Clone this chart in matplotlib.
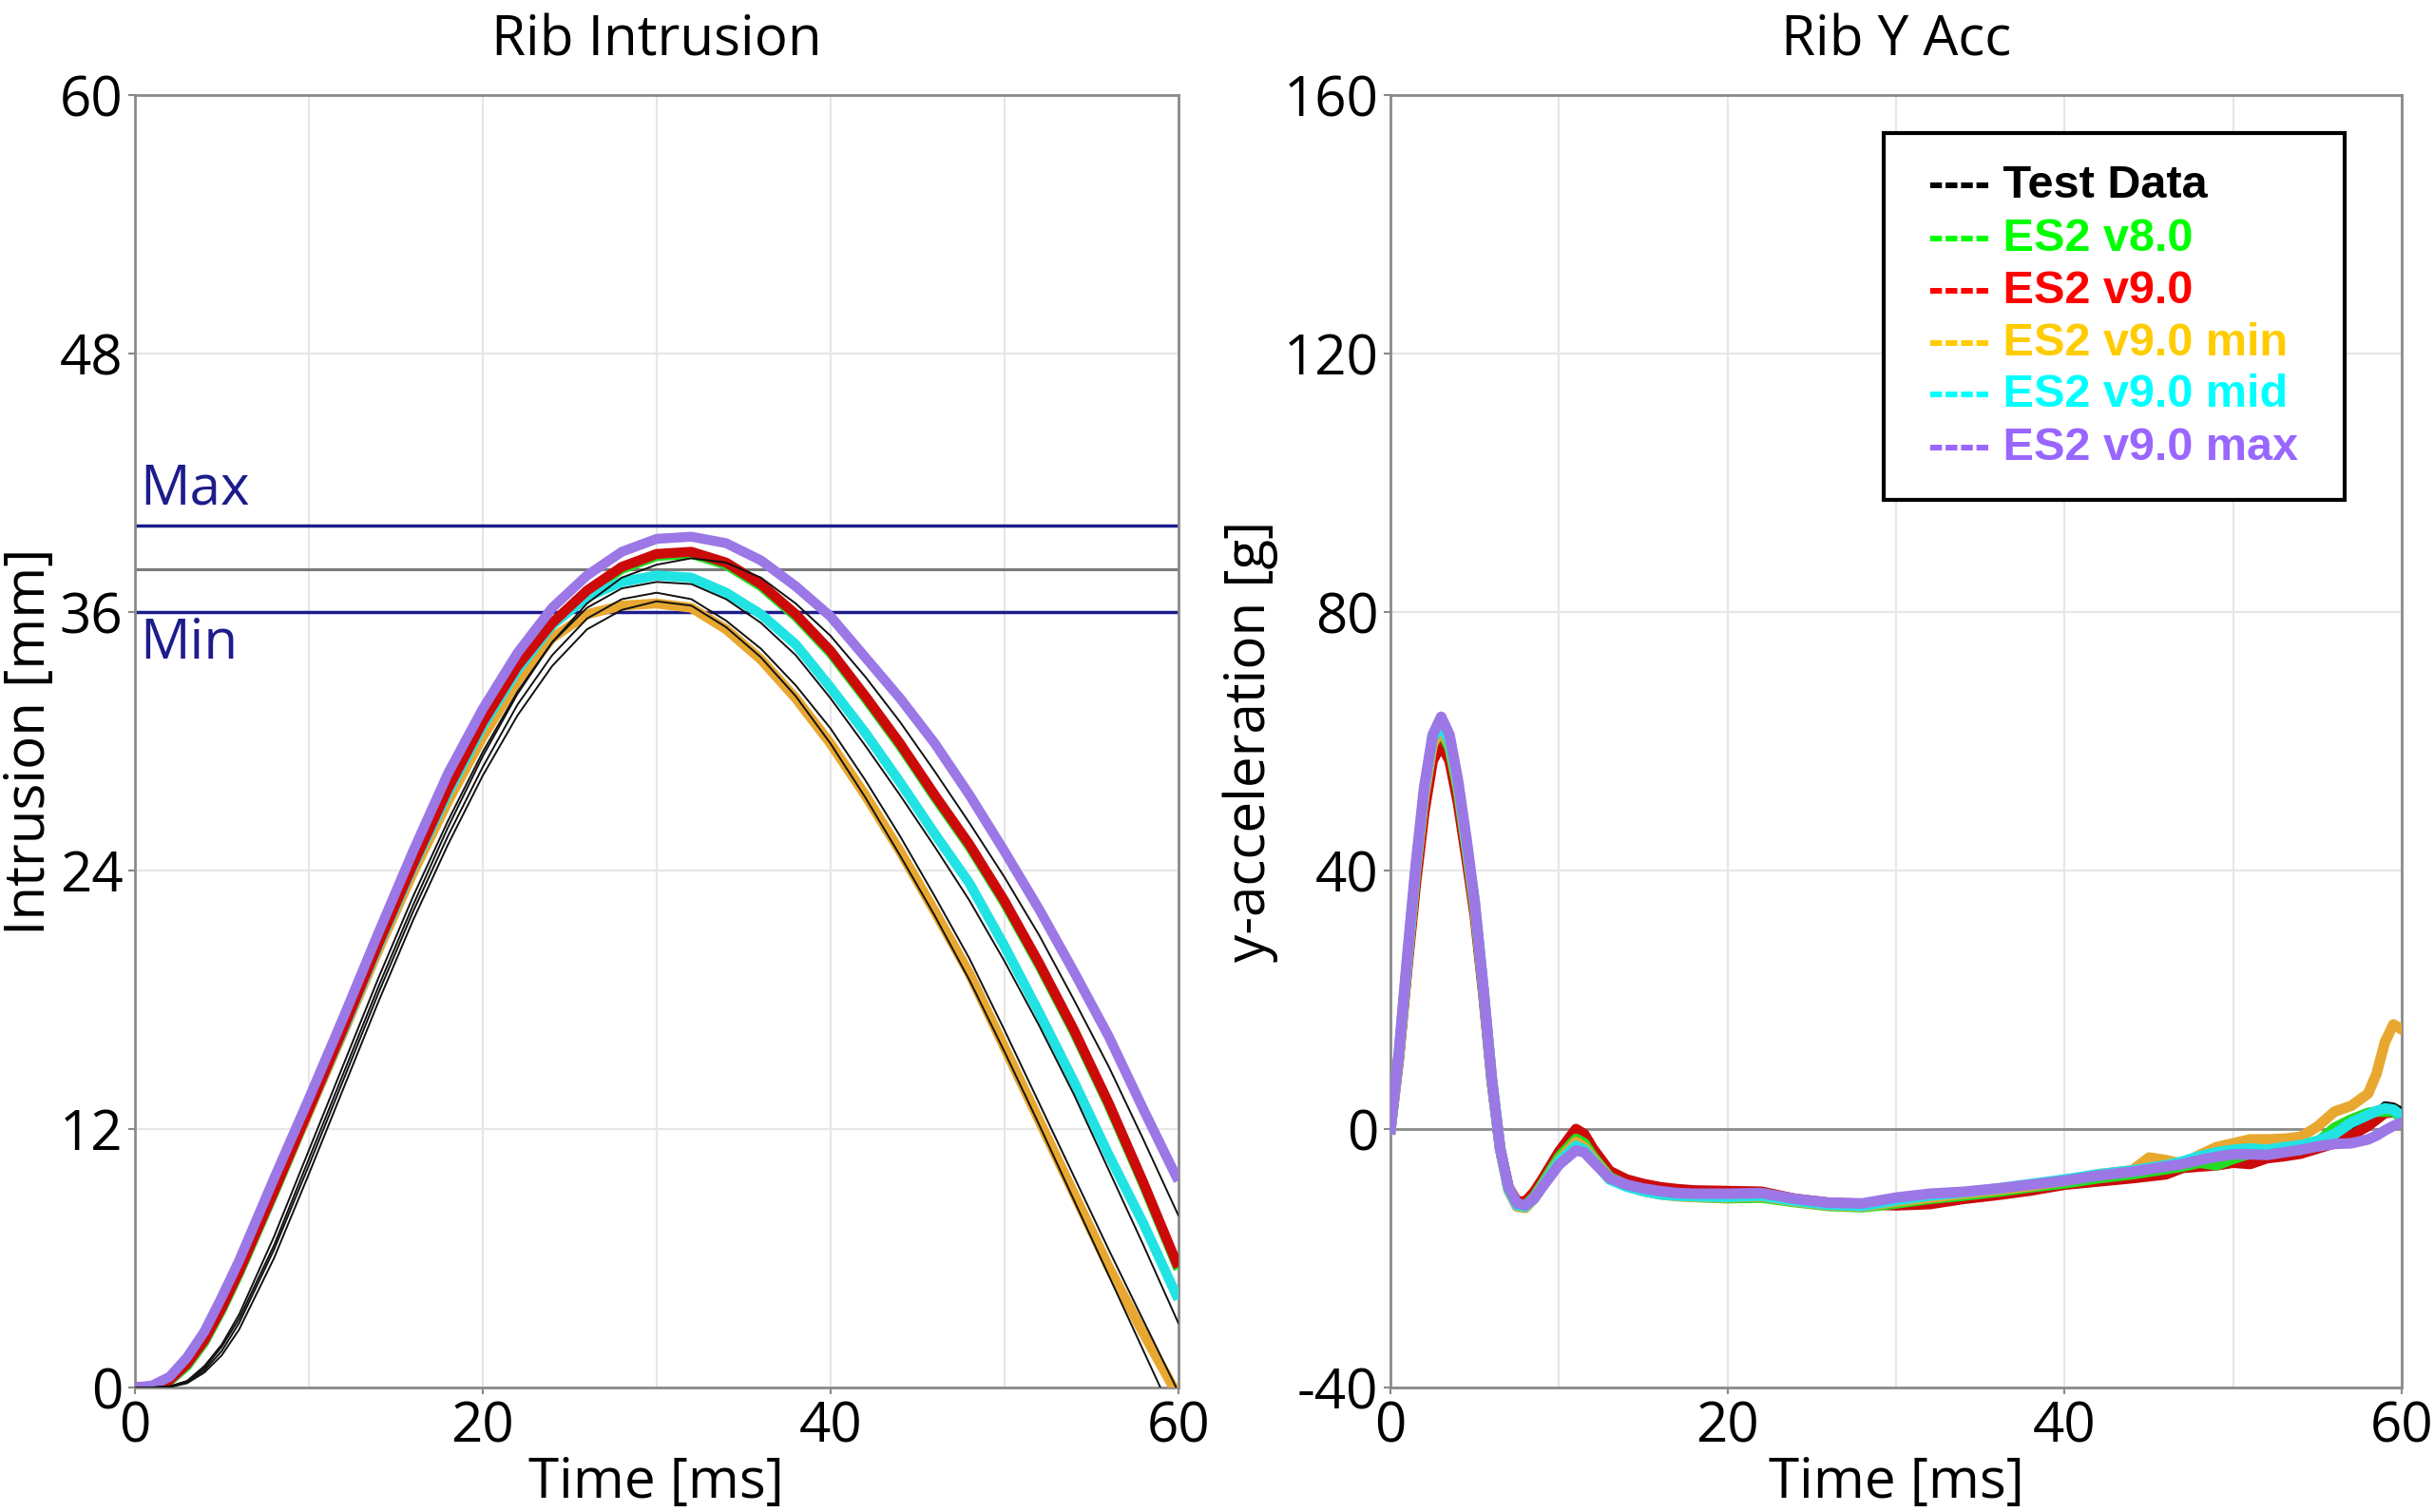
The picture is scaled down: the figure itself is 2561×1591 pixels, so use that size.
import matplotlib
matplotlib.use("Agg")
import matplotlib.pyplot as plt
from matplotlib.ticker import MultipleLocator
from matplotlib.patches import Rectangle

plt.rcParams['font.family'] = ['Open Sans', 'DejaVu Sans']
plt.rcParams['axes.unicode_minus'] = False

# ---------------- data: Rib Intrusion ----------------
t_left = [0, 1, 2, 3, 4, 5, 6, 8, 10, 12, 14, 16, 18, 20, 22, 24, 26, 28, 30, 32,
          34, 36, 38, 40, 42, 44, 46, 48, 50, 52, 54, 56, 58, 60]

intr_v80 = [0, 0.05, 0.3, 1.0, 2.1, 3.6, 5.3, 9.0, 12.8, 16.6, 20.5, 24.2, 27.7, 30.8, 33.4, 35.4, 36.9,
            38.0, 38.6, 38.7, 38.2, 37.2, 35.8, 34.1, 32.0, 29.8, 27.4, 25.1, 22.5, 19.6, 16.5, 13.1, 9.4, 5.5]
intr_v90 = [0, 0.05, 0.35, 1.1, 2.2, 3.7, 5.4, 9.1, 12.9, 16.7, 20.6, 24.3, 27.8, 30.9, 33.5, 35.5, 37.0,
            38.1, 38.7, 38.8, 38.3, 37.3, 35.9, 34.2, 32.1, 29.9, 27.5, 25.2, 22.6, 19.7, 16.6, 13.2, 9.5, 5.6]
intr_min = [0, 0.05, 0.35, 1.1, 2.2, 3.7, 5.4, 9.1, 12.8, 16.5, 20.3, 23.9, 27.2, 30.2, 32.8, 34.8, 35.9,
            36.3, 36.4, 36.2, 35.2, 33.8, 32.0, 29.9, 27.5, 24.9, 22.1, 19.2, 15.8, 12.4, 9.0, 5.6, 2.5, -0.4]
intr_mid = [0, 0.05, 0.35, 1.1, 2.2, 3.7, 5.4, 9.1, 12.9, 16.6, 20.5, 24.2, 27.6, 30.7, 33.3, 35.4, 36.7,
            37.4, 37.7, 37.6, 36.9, 35.9, 34.5, 32.5, 30.4, 28.1, 25.7, 23.4, 20.5, 17.4, 14.2, 10.8, 7.6, 4.1]
intr_max = [0, 0.1, 0.5, 1.4, 2.6, 4.2, 5.9, 9.7, 13.4, 17.2, 21.1, 24.9, 28.5, 31.5, 34.1, 36.2, 37.7,
            38.8, 39.4, 39.5, 39.2, 38.4, 37.2, 35.8, 33.9, 32.0, 29.9, 27.5, 24.9, 22.2, 19.3, 16.3, 12.9, 9.6]
intr_test1 = [0, 0, 0.05, 0.3, 0.9, 1.9, 3.2, 6.6, 10.6, 14.6, 18.6, 22.4, 26.0, 29.3, 32.2, 34.6, 36.4,
              37.6, 38.2, 38.5, 38.3, 37.6, 36.4, 34.9, 33.0, 30.9, 28.6, 26.2, 23.7, 21.0, 18.0, 14.9, 11.5, 8.0]
intr_test2 = [0, 0, 0.05, 0.3, 1.0, 2.0, 3.4, 7.0, 11.0, 15.0, 19.0, 22.8, 26.3, 29.5, 32.3, 34.6, 36.2,
              37.1, 37.4, 37.3, 36.6, 35.5, 34.0, 32.0, 29.8, 27.5, 25.1, 22.6, 19.8, 16.8, 13.6, 10.1, 6.6, 3.0]
intr_test3 = [0, 0, 0.05, 0.25, 0.8, 1.7, 3.0, 6.4, 10.3, 14.3, 18.3, 22.1, 25.6, 28.8, 31.7, 34.0, 35.7,
              36.6, 36.9, 36.6, 35.6, 34.3, 32.6, 30.6, 28.2, 25.6, 22.8, 19.9, 16.6, 13.2, 9.8, 6.4, 3.1, -0.2]
intr_test4 = [0, 0, 0.02, 0.2, 0.7, 1.5, 2.7, 6.0, 9.9, 13.9, 17.9, 21.7, 25.2, 28.4, 31.2, 33.5, 35.2,
              36.1, 36.5, 36.3, 35.3, 33.9, 32.1, 29.9, 27.4, 24.7, 21.9, 18.9, 15.6, 12.2, 8.7, 5.2, 1.7, -1.8]
intr_limit_max = 40
intr_limit_min = 36
intr_nominal = 38

# ---------------- data: Rib Y Acc ----------------
t_right = [0, 0.5, 1, 1.5, 2, 2.5, 3, 3.5, 4, 4.5,
           5, 5.5, 6, 6.5, 7, 7.5, 8, 8.5, 9, 10,
           11, 11.5, 12, 13, 14, 15, 16, 17, 18, 20,
           22, 24, 26, 28, 30, 32, 34, 36, 38, 40,
           42, 44, 45, 46, 47, 48, 49, 50, 51, 52,
           53, 54, 55, 56, 57, 58, 58.5, 59, 59.5, 60]

acc_test = [0, 11, 25.5, 39.5, 51, 59, 61, 58.5, 52, 43,
            33.5, 21, 7.5, -3, -9.2, -11.4, -11.5, -10.2, -8.2, -4.0,
            -1.0, -1.8, -3.8, -7.0, -8.2, -9.0, -9.5, -9.8, -10.0, -10.2,
            -10.2, -11.0, -11.6, -11.8, -11.6, -11.2, -10.6, -10.0, -9.2, -8.5,
            -7.8, -7.2, -6.8, -6.4, -6.0, -5.6, -5.2, -4.8, -4.6, -4.4,
            -4.0, -3.6, -2.8, -1.8, -0.5, 1.0, 2.5, 3.7, 3.5, 2.8]
acc_v80 = [0, 11.5, 26, 40, 52, 60, 61.5, 59, 52.5, 43.5,
           34, 21.5, 7.8, -3, -9.2, -11.6, -11.8, -10.5, -8.5, -4.3,
           -1.5, -2.2, -4.2, -7.4, -8.7, -9.5, -10.0, -10.3, -10.5, -10.7,
           -10.6, -11.3, -11.9, -12.1, -11.5, -10.8, -10.3, -9.7, -9.0, -8.4,
           -7.6, -7.0, -6.6, -6.2, -5.8, -5.2, -5.6, -4.6, -3.8, -3.6,
           -3.5, -3.2, -2.0, 0.2, 1.5, 2.5, 2.7, 2.7, 2.7, 1.7]
acc_v90 = [0, 11, 25, 38, 49, 57, 59.5, 57, 50.5, 42,
           33, 21, 7.5, -3, -9, -11.2, -11.2, -9.8, -7.8, -3.5,
           0.0, -0.8, -3.0, -6.5, -7.8, -8.5, -9.0, -9.3, -9.5, -9.6,
           -9.7, -10.8, -11.4, -11.6, -11.8, -11.6, -10.8, -10.2, -9.5, -8.6,
           -8.1, -7.6, -7.3, -7.0, -6.0, -5.8, -5.6, -5.2, -5.4, -4.5,
           -4.2, -3.8, -3.0, -2.2, -1.0, 0.5, 1.5, 2.5, 2.6, 2.2]
acc_min = [0, 11.5, 26, 40, 51.5, 59.5, 62, 59.5, 53, 44,
           34.5, 22, 8, -3, -9.5, -12, -12.2, -10.8, -8.8, -4.8,
           -2.0, -2.8, -4.5, -7.6, -8.8, -9.6, -10.1, -10.4, -10.5, -10.6,
           -10.4, -11.2, -11.8, -12.0, -11.2, -10.6, -10.0, -9.4, -8.8, -8.0,
           -7.0, -6.4, -4.4, -4.8, -5.4, -4.0, -2.8, -2.2, -1.6, -1.6,
           -1.5, -1.2, 0.4, 2.7, 3.6, 5.5, 8.6, 13.5, 16.2, 15.4]
acc_mid = [0, 11.8, 26.5, 40.5, 52.5, 60.5, 62.5, 60, 53.5, 44.5,
           35, 22, 8, -3, -9.3, -11.8, -12.0, -10.8, -8.9, -5.0,
           -2.6, -3.2, -4.8, -7.8, -8.9, -9.6, -10.1, -10.3, -10.4, -10.5,
           -10.3, -11.1, -11.7, -11.9, -11.0, -10.3, -9.8, -9.2, -8.5, -7.8,
           -7.0, -6.4, -6.0, -5.6, -5.0, -4.2, -3.6, -3.2, -3.0, -3.2,
           -2.8, -2.5, -1.8, -0.8, 1.0, 2.2, 2.8, 3.2, 3.0, 2.0]
acc_max = [0, 12, 27, 41, 53, 61, 63.8, 61, 54, 45,
           35, 22, 8, -3, -9, -11.5, -11.8, -10.8, -9.0, -5.5,
           -3.3, -3.6, -5.0, -7.6, -8.6, -9.2, -9.6, -9.9, -10.0, -10.0,
           -9.9, -10.8, -11.4, -11.5, -10.6, -10.0, -9.7, -9.2, -8.6, -8.0,
           -7.2, -6.6, -6.2, -5.8, -5.4, -4.8, -4.3, -3.9, -3.9, -4.0,
           -3.6, -3.2, -2.7, -2.3, -2.2, -1.6, -1.0, -0.2, 0.5, 1.0]

legend_labels = ["Test Data", "ES2 v8.0", "ES2 v9.0", "ES2 v9.0 min", "ES2 v9.0 mid", "ES2 v9.0 max"]
legend_colors = ["#000000", "#00FF00", "#FF0000", "#FFCC00", "#00FFFF", "#9966FF"]

# line colours
c_test = "#111111"
c_v80 = "#22DD22"
c_v90 = "#CC0A0A"
c_min = "#E8A830"
c_mid = "#22E3E3"
c_max = "#9B78E6"
c_limit = "#1C1C8C"

fig = plt.figure(figsize=(25.61, 15.91), dpi=100)
axL = fig.add_axes([0.0554, 0.0823, 0.4287, 0.8548])
axR = fig.add_axes([0.5713, 0.0823, 0.4155, 0.8548])

FS = 42
for ax in (axL, axR):
    for sp in ax.spines.values():
        sp.set_color("#8a8a8a")
        sp.set_linewidth(2)
    ax.tick_params(which="major", direction="out", length=5, width=1.5, color="#8a8a8a",
                   labelsize=FS, pad=4)
    ax.tick_params(which="minor", length=0)
    ax.xaxis.set_major_locator(MultipleLocator(20))
    ax.xaxis.set_minor_locator(MultipleLocator(10))
    ax.grid(which="both", color="#e6e6e6", linewidth=1.5, zorder=0)
    ax.set_axisbelow(True)
    ax.set_xlim(0, 60)
    ax.set_xlabel("Time [ms]", fontsize=FS, labelpad=0)

# ---------- left axis ----------
axL.set_ylim(0, 60)
axL.yaxis.set_major_locator(MultipleLocator(12))
axL.set_title("Rib Intrusion", fontsize=FS, pad=30)
axL.set_ylabel("Intrusion [mm]", fontsize=FS, labelpad=1)

axL.axhline(intr_nominal, color="#7a7a7a", lw=2.2, zorder=2)
axL.axhline(intr_limit_max, color=c_limit, lw=2.5, zorder=2)
axL.axhline(intr_limit_min, color=c_limit, lw=2.5, zorder=2)
axL.text(0.3, intr_limit_max + 0.4, "Max", color=c_limit, fontsize=FS, va="bottom", ha="left")
axL.text(0.3, intr_limit_min - 0.2, "Min", color=c_limit, fontsize=FS, va="top", ha="left")

lw_model = 7.5
for ser, col in ((intr_v80, c_v80), (intr_min, c_min), (intr_mid, c_mid),
                 (intr_v90, c_v90), (intr_max, c_max)):
    axL.plot(t_left, ser, color=col, lw=lw_model, zorder=3,
             solid_capstyle="butt", solid_joinstyle="round")
for ser in (intr_test1, intr_test2, intr_test3, intr_test4):
    axL.plot(t_left, ser, color=c_test, lw=1.4, zorder=4)

# ---------- right axis ----------
axR.set_ylim(-40, 160)
axR.yaxis.set_major_locator(MultipleLocator(40))
axR.set_title("Rib Y Acc", fontsize=FS, pad=30)
axR.set_ylabel("y-acceleration [g]", fontsize=FS, labelpad=4)
axR.axhline(0, color="#8a8a8a", lw=2, zorder=2)

lw_acc = 8
axR.plot(t_right, acc_test, color=c_test, lw=6, zorder=3, solid_joinstyle="round")
for ser, col in ((acc_v90, c_v90), (acc_v80, c_v80), (acc_min, c_min),
                 (acc_mid, c_mid), (acc_max, c_max)):
    axR.plot(t_right, ser, color=col, lw=lw_acc, zorder=3, solid_joinstyle="round")

# legend box drawn as text block
box = Rectangle((0.488, 0.687), 0.455, 0.284, transform=axR.transAxes,
                facecolor="white", edgecolor="black", lw=3, zorder=10)
axR.add_patch(box)
row_y = [0.930, 0.889, 0.848, 0.808, 0.768, 0.727]
for lab, col, yy in zip(legend_labels, legend_colors, row_y):
    axR.text(0.532, yy, "---- " + lab, transform=axR.transAxes, color=col,
             fontsize=35, fontweight="bold", family=["Liberation Sans", "DejaVu Sans"],
             va="center", ha="left", zorder=11)

fig.savefig("out.png", dpi=100, facecolor="white")
